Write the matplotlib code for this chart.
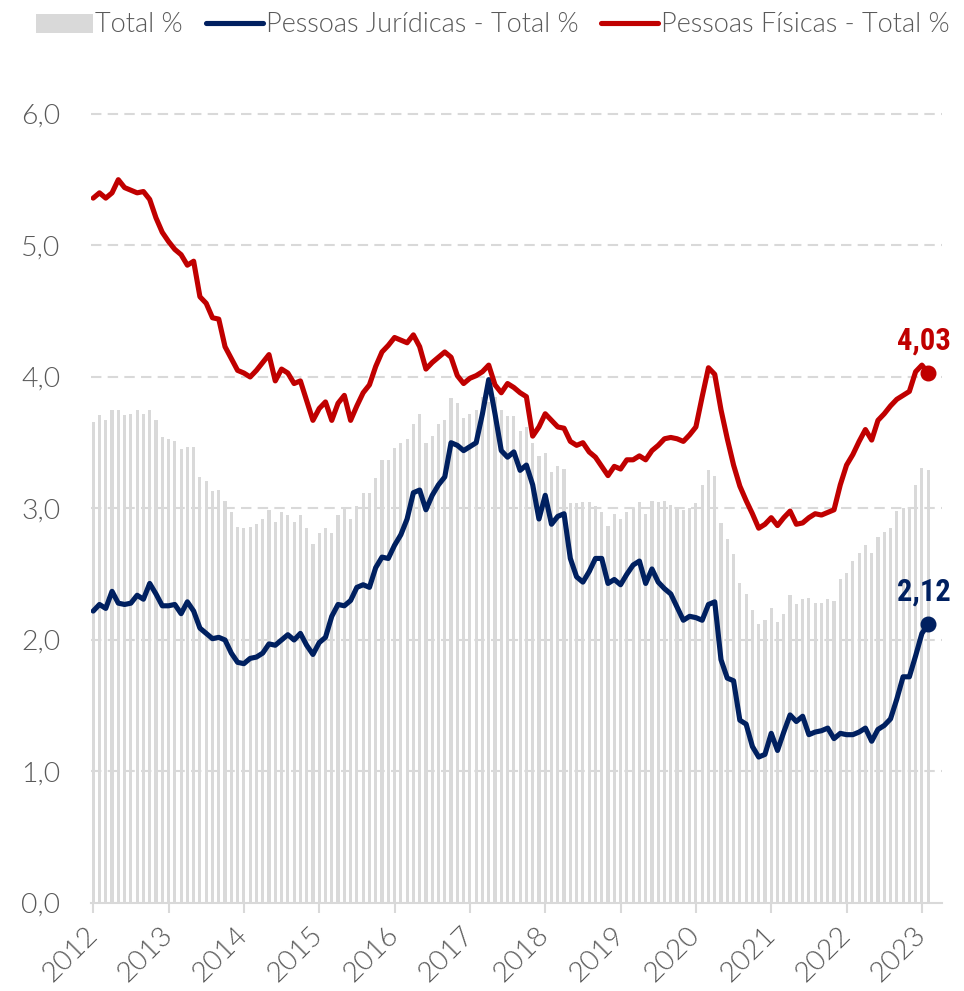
import matplotlib.pyplot as plt
import numpy as np
from matplotlib.patches import Patch
from matplotlib.lines import Line2D
from matplotlib.ticker import FuncFormatter

# monthly series, Jan/2012 .. Feb/2023 (%)
total = [
    3.66, 3.71, 3.67, 3.75, 3.75, 3.71, 3.72, 3.75, 3.72, 3.75, 3.67, 3.54,  # 2012
    3.53, 3.51, 3.45, 3.47, 3.47, 3.24, 3.21, 3.13, 3.14, 3.06, 2.97, 2.86,  # 2013
    2.85, 2.86, 2.88, 2.92, 2.99, 2.90, 2.97, 2.95, 2.90, 2.95, 2.85, 2.73,  # 2014
    2.81, 2.85, 2.81, 2.95, 3.01, 2.92, 3.02, 3.12, 3.12, 3.23, 3.37, 3.37,  # 2015
    3.46, 3.50, 3.53, 3.64, 3.72, 3.50, 3.55, 3.64, 3.67, 3.84, 3.80, 3.69,  # 2016
    3.72, 3.75, 3.85, 3.81, 3.85, 3.75, 3.70, 3.70, 3.59, 3.62, 3.50, 3.40,  # 2017
    3.42, 3.28, 3.32, 3.30, 3.04, 3.04, 3.05, 3.05, 3.02, 2.97, 2.87, 2.96,  # 2018
    2.92, 2.97, 3.00, 3.05, 2.96, 3.06, 3.05, 3.06, 3.03, 3.00, 2.99, 3.00,  # 2019
    3.04, 3.18, 3.29, 3.25, 2.89, 2.77, 2.65, 2.43, 2.35, 2.23, 2.12, 2.15,  # 2020
    2.24, 2.14, 2.20, 2.34, 2.27, 2.31, 2.32, 2.28, 2.28, 2.31, 2.30, 2.46,  # 2021
    2.51, 2.60, 2.66, 2.72, 2.66, 2.78, 2.82, 2.85, 2.98, 3.00, 3.00, 3.18,  # 2022
    3.31, 3.29,                                                              # 2023
]

pj = [
    2.22, 2.27, 2.24, 2.37, 2.28, 2.27, 2.28, 2.34, 2.31, 2.43, 2.35, 2.26,
    2.26, 2.27, 2.20, 2.29, 2.22, 2.09, 2.05, 2.01, 2.02, 2.00, 1.90, 1.83,
    1.82, 1.86, 1.87, 1.90, 1.97, 1.96, 2.00, 2.04, 2.00, 2.05, 1.96, 1.89,
    1.98, 2.02, 2.18, 2.27, 2.26, 2.30, 2.40, 2.42, 2.40, 2.55, 2.63, 2.62,
    2.72, 2.80, 2.92, 3.12, 3.14, 2.99, 3.10, 3.18, 3.24, 3.50, 3.48, 3.44,
    3.47, 3.50, 3.72, 3.98, 3.72, 3.44, 3.39, 3.43, 3.29, 3.33, 3.18, 2.92,
    3.10, 2.88, 2.94, 2.96, 2.62, 2.48, 2.44, 2.52, 2.62, 2.62, 2.43, 2.46,
    2.42, 2.50, 2.57, 2.60, 2.43, 2.54, 2.44, 2.39, 2.35, 2.25, 2.15, 2.18,
    2.17, 2.15, 2.27, 2.29, 1.85, 1.71, 1.69, 1.39, 1.36, 1.19, 1.11, 1.13,
    1.29, 1.16, 1.30, 1.43, 1.38, 1.42, 1.28, 1.30, 1.31, 1.33, 1.25, 1.29,
    1.28, 1.28, 1.30, 1.33, 1.23, 1.32, 1.35, 1.40, 1.55, 1.72, 1.72, 1.88,
    2.05, 2.12,
]

pf = [
    5.36, 5.40, 5.36, 5.40, 5.50, 5.44, 5.42, 5.40, 5.41, 5.35, 5.21, 5.10,
    5.03, 4.97, 4.93, 4.85, 4.88, 4.61, 4.56, 4.45, 4.44, 4.23, 4.14, 4.05,
    4.03, 4.00, 4.05, 4.11, 4.17, 3.97, 4.06, 4.03, 3.95, 3.97, 3.82, 3.67,
    3.76, 3.81, 3.67, 3.80, 3.86, 3.67, 3.78, 3.88, 3.94, 4.08, 4.19, 4.24,
    4.30, 4.28, 4.26, 4.32, 4.23, 4.06, 4.11, 4.15, 4.19, 4.15, 4.01, 3.95,
    3.99, 4.01, 4.04, 4.09, 3.94, 3.88, 3.95, 3.92, 3.88, 3.85, 3.55, 3.62,
    3.72, 3.67, 3.62, 3.61, 3.51, 3.48, 3.50, 3.43, 3.39, 3.32, 3.25, 3.32,
    3.30, 3.37, 3.37, 3.40, 3.37, 3.44, 3.48, 3.53, 3.54, 3.53, 3.51, 3.56,
    3.62, 3.85, 4.07, 4.02, 3.75, 3.53, 3.33, 3.17, 3.06, 2.96, 2.85, 2.88,
    2.93, 2.87, 2.93, 2.98, 2.88, 2.89, 2.93, 2.96, 2.95, 2.97, 2.99, 3.18,
    3.33, 3.41, 3.51, 3.60, 3.52, 3.67, 3.72, 3.78, 3.83, 3.86, 3.89, 4.04,
    4.09, 4.03,
]

anos = list(range(2012, 2024))

cinza = '#D9D9D9'
texto = '#595959'
azul = '#002060'
vermelho = '#C00000'

plt.rcParams['font.family'] = ['Lato', 'DejaVu Sans']

x = np.arange(len(total))

fig = plt.figure(figsize=(9.64, 9.91), dpi=100)
ax = fig.add_axes([91 / 964, 88 / 991, 851 / 964, 803 / 991])

for v in range(1, 7):
    ax.axhline(v, color=cinza, lw=1.5, dashes=(5, 3), zorder=0)

ax.bar(x, total, width=0.5, color=cinza, zorder=1)
ax.plot(x, pj, color=azul, lw=3.7, solid_joinstyle='round', solid_capstyle='round', zorder=3)
ax.plot(x, pf, color=vermelho, lw=3.7, solid_joinstyle='round', solid_capstyle='round', zorder=3)

# end points + labels
for serie, cor in [(pj, azul), (pf, vermelho)]:
    ax.plot(x[-1], serie[-1], 'o', ms=10.5, color=cor, zorder=4)
    ax.annotate(f'{serie[-1]:.2f}'.replace('.', ','), (x[-1], serie[-1]),
                xytext=(-3, 17), textcoords='offset points', ha='center', va='baseline',
                fontsize=22, fontweight='bold', color=cor, fontstretch='condensed',
                family=['Roboto Condensed', 'Roboto', 'DejaVu Sans'])

ax.set_xlim(-0.35, 135.2)
ax.set_ylim(0, 6.106)
ax.set_yticks(np.arange(0, 7, 1))
ax.yaxis.set_major_formatter(FuncFormatter(lambda v, p: f'{v:.1f}'.replace('.', ',')))
ax.set_xticks(np.arange(0, 12 * len(anos), 12))
ax.set_xticklabels(anos, rotation=45, ha='right', va='center', rotation_mode='anchor')

for s in ['top', 'right', 'left']:
    ax.spines[s].set_visible(False)
ax.spines['bottom'].set_color(cinza)
ax.spines['bottom'].set_linewidth(1.5)

ax.tick_params(axis='y', length=0, pad=22, labelsize=20.5, labelcolor=texto)
ax.tick_params(axis='x', length=7, width=1.5, color=cinza, pad=13, labelsize=20.5, labelcolor=texto)
for lab in ax.get_xticklabels() + ax.get_yticklabels():
    lab.set_fontweight(300)

handles = [Patch(facecolor=cinza, edgecolor='none'),
           Line2D([], [], color=azul, lw=3.7, solid_capstyle='round'),
           Line2D([], [], color=vermelho, lw=3.7, solid_capstyle='round')]
labels = ['Total %', 'Pessoas Jurídicas - Total %', 'Pessoas Físicas - Total %']
leg = fig.legend(handles, labels, loc='center', bbox_to_anchor=(0.511, 1 - 25 / 991), ncol=3,
                 frameon=False, fontsize=19.5, handlelength=2.1, handletextpad=0.1,
                 columnspacing=0.85, borderaxespad=0)
for t in leg.get_texts():
    t.set_color(texto)
    t.set_fontweight(300)

fig.savefig('out.png', dpi=100)
